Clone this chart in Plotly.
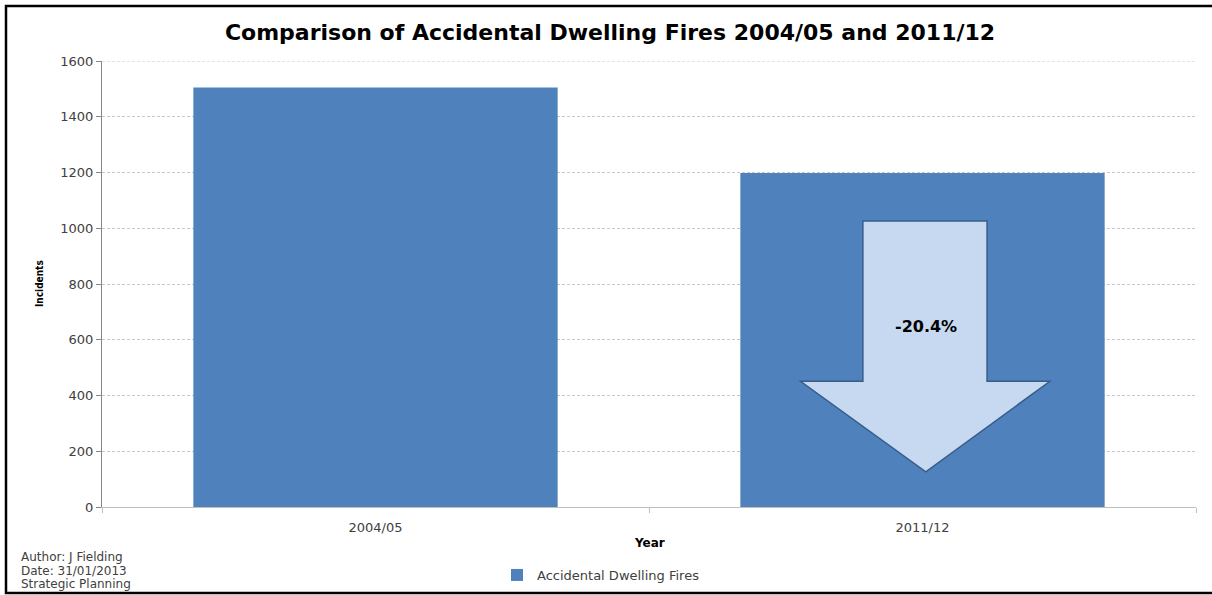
import plotly.graph_objects as go

# ---- data ----
categories = ["2004/05", "2011/12"]
incidents = [1505, 1198]
series_name = "Accidental Dwelling Fires"
y_ticks = [0, 200, 400, 600, 800, 1000, 1200, 1400, 1600]
footer_lines = ["Author: J Fielding", "Date: 31/01/2013", "Strategic Planning"]

W, H = 1212, 595
L, R, T, B = 102, 16, 61, 88
pw, ph = W - L - R, H - T - B

def px_x(p):
    return (p - L) / pw

def px_y(p):
    return (H - B - p) / ph

change = (incidents[1] - incidents[0]) / incidents[0] * 100

fig = go.Figure()
fig.add_trace(go.Bar(
    x=list(range(len(categories))), y=incidents, name=series_name,
    width=0.666, marker=dict(color="#4F81BD", line=dict(width=0)),
    showlegend=True,
))

# arrow callout (annotation shape) in data coords of the second bar
arrow_path = ("M 0.891,1026 L 1.118,1026 L 1.118,451 L 1.233,451 "
              "L 1.006,126 L 0.777,451 L 0.891,451 Z")
shapes = [
    dict(type="line", xref="paper", yref="y", x0=0, x1=1, y0=1600, y1=1600,
         line=dict(color="#C8C8C8", width=1, dash="3px,2px"), layer="below"),
    dict(type="path", xref="x", yref="y", path=arrow_path,
         fillcolor="#C6D9F1", line=dict(color="#385D8A", width=1.5), layer="above"),
    dict(type="rect", xref="paper", yref="paper",
         x0=px_x(6), x1=px_x(1220), y0=px_y(6), y1=px_y(593),
         line=dict(color="#000000", width=2.5), fillcolor="rgba(0,0,0,0)", layer="above"),
]

annotations = [
    dict(text=f"<b>{change:.1f}%</b>", xref="x", yref="y", x=1.006,
         y=(507 - 326) / ph * 1600, showarrow=False,
         font=dict(family="DejaVu Sans", size=16, color="#000000")),
    dict(text="<b>Incidents</b>", xref="paper", yref="paper", x=px_x(39), y=0.5,
         textangle=-90, showarrow=False, xanchor="center", yanchor="middle",
         font=dict(family="DejaVu Sans Condensed", size=10, color="#000000")),
    dict(text="<b>Year</b>", xref="paper", yref="paper", x=0.5, y=px_y(543),
         showarrow=False, xanchor="center", yanchor="middle",
         font=dict(family="DejaVu Sans", size=12, color="#000000")),
]
for i, line in enumerate(footer_lines):
    annotations.append(dict(
        text=line, xref="paper", yref="paper", x=px_x(19), y=px_y(557 + 13.5 * i),
        showarrow=False, xanchor="left", yanchor="middle",
        font=dict(family="DejaVu Sans", size=12, color="#404040")))

fig.update_layout(
    width=W, height=H,
    margin=dict(l=L, r=R, t=T, b=B, autoexpand=False),
    paper_bgcolor="white", plot_bgcolor="white",
    title=dict(text="<b>Comparison of Accidental Dwelling Fires 2004/05 and 2011/12</b>",
               xref="paper", x=px_x(610), xanchor="center",
               yref="container", y=1 - 32 / H, yanchor="middle",
               font=dict(family="DejaVu Sans", size=22, color="#000000")),
    xaxis=dict(range=[-0.5, 1.5], tickvals=list(range(len(categories))),
               ticktext=categories, ticks="", showgrid=False, zeroline=False,
               showline=True, linecolor="#BFBFBF", linewidth=1, ticklabelstandoff=8,
               tickfont=dict(family="DejaVu Sans", size=13, color="#404040"),
               minor=dict(ticks="outside", tick0=0.5, dtick=1, ticklen=5,
                          tickcolor="#BFBFBF", showgrid=False)),
    yaxis=dict(range=[0, 1600], tickvals=y_ticks, ticks="outside", ticklen=5,
               tickcolor="#868686", showline=True, linecolor="#868686", linewidth=1,
               showgrid=True, gridcolor="#C8C8C8", griddash="3px,2px", gridwidth=1,
               zeroline=False,
               tickfont=dict(family="DejaVu Sans", size=13, color="#404040")),
    legend=dict(orientation="h", x=px_x(497), xanchor="left", y=px_y(575),
                yanchor="middle", font=dict(family="DejaVu Sans", size=13, color="#404040"),
                itemwidth=30, bgcolor="rgba(0,0,0,0)"),
    shapes=shapes, annotations=annotations, bargap=0.334,
)

fig.write_html("out.html")
